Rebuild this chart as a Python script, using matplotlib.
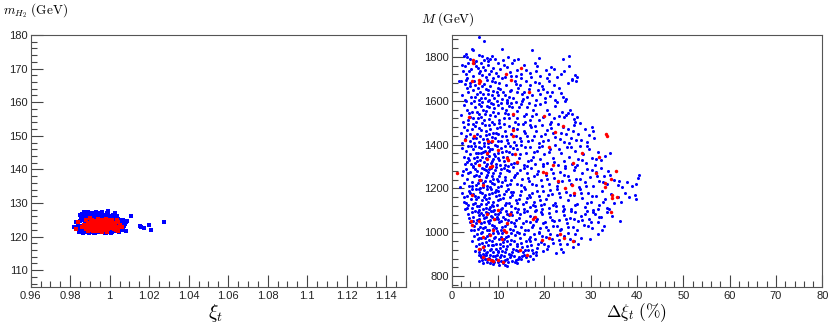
import matplotlib
matplotlib.use("Agg")
import matplotlib.pyplot as plt
from matplotlib.ticker import MultipleLocator, FuncFormatter

# ---------------- data: left panel (xi_t, m_H2) ----------------
left_blue = [(0.983,122.6),(0.984,124.3),(0.985,123.0),(0.985,121.8),(0.986,122.4),(0.986,124.8),(0.987,123.5),(0.987,121.5),(0.988,122.9),(0.988,125.1),(0.989,121.9),(0.989,124.0),(0.989,127.2),(0.990,127.0),(0.990,123.2),(0.990,121.4),(0.991,125.6),(0.991,122.5),(0.992,124.4),(0.992,121.2),(0.993,123.8),(0.993,126.1),(0.993,122.0),(0.994,125.0),(0.994,121.5),(0.995,126.8),(0.995,123.0),(0.995,121.3),(0.996,124.7),(0.996,122.2),(0.997,126.0),(0.997,121.6),(0.998,125.3),(0.998,123.4),(0.998,121.2),(0.999,127.6),(0.999,124.1),(0.999,122.0),(1.000,126.2),(1.000,125.0),(1.000,121.5),(1.001,123.6),(1.001,122.3),(1.002,124.8),(1.002,121.8),(1.003,123.2),(1.003,125.4),(1.004,122.5),(1.004,124.0),(1.005,123.0),(1.005,121.9),(1.006,122.8),(1.006,124.3),(1.007,123.1),(0.985,126.5),(0.986,125.8),(0.984,123.8),(0.987,126.0),(0.988,121.3),(0.991,127.1),(0.992,126.4),(0.996,127.3),(0.997,124.3),(0.994,127.0),(0.990,125.3),(0.989,122.8),(0.988,124.3),(0.990,124.2),(0.991,121.6),(0.992,123.0),(0.993,124.9),(0.994,122.7),(0.995,124.5),(0.996,125.6),(0.997,122.8),(0.998,121.7),(0.999,125.8),(1.000,123.9),(1.001,125.6),(1.002,123.3),(1.003,121.7),(1.004,125.1),(1.005,124.4),(0.986,123.3),(0.987,122.1),(0.988,123.7),(0.989,125.6),(0.990,122.0),(0.991,123.9),(0.992,125.5),(0.993,121.6),(0.994,123.6),(0.995,122.0),(0.996,121.6),(0.997,125.1),(0.998,126.4),(0.999,121.3),(1.000,122.6),(1.001,121.4),(1.002,126.0),(1.003,124.5),(1.004,123.2),(1.006,123.6),(1.008,121.8),(1.008,124.4),(0.985,124.6),(0.984,122.2),(0.983,124.2),(0.982,122.9),(1.0086,124.7),(1.0107,126.2),(1.0155,123.2),(1.0159,122.8),(1.0176,122.5),(1.0198,123.5),(1.021,122.0),(1.0276,124.3),(0.993,127.2),(0.999,127.0),
(0.9845,121.4),(0.9855,125.3),(0.9865,121.1),(0.9875,124.6),(0.9885,126.3),(0.9895,121.2),(0.9905,126.0),(0.9915,124.8),(0.9925,121.0),(0.9935,125.7),(0.9945,126.2),(0.9955,125.8),(0.9965,126.5),(0.9975,121.1),(0.9985,127.0),(0.9995,126.0),(1.0005,121.0),(1.0015,126.5),(1.0025,125.4),(1.0035,126.0),(1.0045,121.3),(1.0055,125.0),(1.0065,121.9),(1.0075,123.8),(0.9838,123.4),(0.9862,126.8),(0.9872,127.3),(1.0028,127.1),(1.0052,122.2),(1.0068,124.9)]

left_red = [(0.983,122.3),(0.984,124.4),(0.986,122.8),(0.987,123.6),(0.988,122.2),(0.989,124.0),(0.990,122.6),(0.990,123.8),(0.991,125.0),(0.991,122.1),(0.992,123.4),(0.992,124.6),(0.993,122.5),(0.993,123.9),(0.994,125.3),(0.994,122.9),(0.995,124.2),(0.995,121.9),(0.996,123.3),(0.996,125.0),(0.997,122.4),(0.997,124.5),(0.998,123.1),(0.998,125.2),(0.999,122.2),(0.999,123.8),(1.000,124.7),(1.000,122.7),(1.001,123.5),(1.001,124.9),(1.002,122.4),(1.002,124.0),(1.003,123.0),(1.004,124.3),(1.004,121.8),(1.005,123.4),(0.989,121.8),(0.991,123.5),(0.993,121.7),(0.995,123.0),(0.997,123.7),(0.999,124.9),(1.003,122.1),(0.996,121.4),(0.988,125.0),(0.994,124.0),(0.998,122.0),(1.000,123.3),(0.990,125.5),(0.992,122.0),(1.004,122.8),(1.006,123.0),
(0.9895,123.1),(0.9905,124.5),(0.9915,122.8),(0.9925,124.1),(0.9935,123.2),(0.9945,121.8),(0.9955,123.6),(0.9965,124.6),(0.9975,123.0),(0.9985,124.2),(0.9995,122.7),(1.0005,124.0),(1.0015,122.9),(1.0025,123.6),(0.9965,122.1),(0.9985,121.5),(0.9945,124.7),(0.9915,121.6),(0.9875,123.0),(1.0035,124.8)]

# ---------------- data: right panel (Delta xi_t %, M) ----------------
right_blue = [
(6.0,1890),(7.0,1872),(4.4,1838),(4.7,1830),(10.8,1834),(17.3,1830),(2.6,1806),(3.3,1800),(4.0,1792),(5.9,1808),(6.6,1802),(7.7,1797),(8.2,1791),(9.3,1789),(12.2,1800),(13.5,1785),(14.4,1790),(18.8,1794),(24.0,1791),(25.3,1803),(5.3,1782),(6.9,1786),(11.0,1786),(3.0,1812),(8.8,1806),
(2.2,1765),(2.9,1758),(3.6,1772),(4.2,1745),(5.2,1760),(5.6,1748),(6.3,1770),(6.8,1755),(7.2,1740),(7.9,1762),(8.4,1735),(9.0,1750),(9.6,1728),(10.4,1745),(11.2,1765),(12.0,1752),(13.1,1770),(14.2,1742),(15.6,1765),(16.8,1725),(17.9,1770),(18.5,1758),(20.3,1740),(21.5,1752),(22.0,1745),(23.5,1720),(25.4,1760),(3.1,1720),(3.8,1735),(4.6,1712),(5.9,1725),(6.5,1718),(7.4,1710),(8.1,1722),(8.9,1705),(10.1,1715),(11.5,1708),(12.6,1730),(13.8,1712),(15.0,1705),(16.1,1742),(17.2,1708),(19.1,1715),(20.6,1703),(24.2,1735),(26.6,1718),(2.5,1735),(4.9,1770),(6.1,1735),(7.8,1780),(9.9,1772),(10.9,1705),(12.9,1712),(14.9,1722),(18.2,1735),(21.1,1722),(22.8,1708),(26.0,1700),(27.0,1708),(3.4,1705),
(1.5,1688),(2.0,1690),(2.8,1675),(3.3,1660),(3.9,1680),(4.5,1650),(5.1,1670),(5.7,1660),(6.2,1642),(6.9,1675),(7.3,1655),(7.8,1630),(8.3,1668),(8.9,1645),(9.4,1685),(9.9,1625),(10.5,1655),(11.1,1640),(11.7,1672),(12.3,1618),(12.9,1650),(13.6,1690),(14.1,1640),(14.8,1672),(15.4,1610),(16.0,1692),(16.6,1655),(17.3,1625),(17.9,1685),(18.6,1648),(19.4,1668),(20.1,1612),(20.9,1690),(21.7,1640),(22.4,1605),(23.2,1660),(24.1,1615),(25.0,1680),(25.9,1694),(26.8,1690),(2.3,1625),(2.9,1605),(3.6,1640),(4.2,1618),(4.8,1690),(5.4,1630),(6.0,1605),(6.5,1668),(7.1,1612),(7.6,1695),(8.0,1605),(8.6,1625),(9.2,1612),(10.0,1660),(10.8,1608),(11.4,1625),(12.0,1595),(12.6,1645),(13.2,1612),(14.4,1660),(15.7,1640),(16.3,1618),(17.0,1670),(18.2,1602),(19.0,1630),(19.8,1655),(21.2,1620),(22.0,1672),(23.5,1635),(24.6,1607),(3.0,1695),(4.0,1668),(5.0,1615),(6.7,1630),(7.9,1650),(9.7,1640),(11.9,1605),(13.9,1675),(15.1,1630),(18.8,1680),(20.5,1640),(24.4,1600),(6.4,1612),(8.8,1690),(10.3,1680),
(2.1,1535),(2.7,1580),(3.2,1560),(3.7,1545),(4.1,1590),(4.6,1520),(5.0,1570),(5.5,1548),(5.9,1585),(6.3,1525),(6.8,1560),(7.2,1540),(7.6,1575),(8.1,1515),(8.5,1590),(8.9,1550),(9.4,1530),(9.9,1580),(10.3,1510),(10.9,1565),(11.4,1545),(11.9,1590),(12.4,1520),(13.0,1570),(13.6,1505),(14.2,1555),(14.9,1585),(15.5,1530),(16.2,1570),(16.9,1510),(17.6,1560),(18.3,1540),(19.1,1585),(19.8,1525),(20.6,1560),(21.4,1505),(22.3,1575),(23.1,1530),(23.9,1550),(24.7,1535),(25.5,1560),(26.3,1515),(27.0,1525),(2.5,1505),(3.0,1598),(3.5,1512),(4.3,1550),(4.9,1600),(5.3,1505),(6.0,1540),(6.6,1595),(7.0,1510),(7.4,1555),(7.9,1598),(8.3,1535),(8.7,1505),(9.2,1565),(9.7,1600),(10.1,1545),(10.6,1590),(11.2,1520),(11.7,1560),(12.1,1540),(12.8,1590),(13.3,1535),(14.0,1520),(14.6,1570),(15.2,1600),(16.0,1540),(16.6,1590),(17.3,1530),(18.0,1580),(18.9,1510),(20.2,1595),(21.0,1540),(22.0,1520),(22.8,1595),(24.2,1525),(25.1,1545),(26.0,1540),(26.7,1505),(5.7,1520),(9.0,1585),(12.3,1575),(6.4,1575),(8.0,1570),(3.9,1525),(13.8,1595),(15.8,1505),
(2.0,1455),(2.6,1480),(3.1,1440),(3.5,1495),(3.9,1415),(4.3,1470),(4.7,1430),(5.1,1485),(5.5,1450),(5.9,1410),(6.3,1465),(6.7,1425),(7.1,1490),(7.5,1445),(7.9,1405),(8.3,1470),(8.7,1435),(9.1,1495),(9.5,1455),(9.9,1415),(10.4,1480),(10.9,1440),(11.4,1460),(11.9,1420),(12.4,1485),(12.9,1450),(13.5,1410),(14.1,1470),(14.7,1430),(15.3,1495),(15.9,1455),(16.5,1415),(17.1,1478),(17.7,1440),(18.3,1462),(18.9,1408),(19.5,1488),(20.1,1448),(20.8,1420),(21.5,1475),(22.2,1435),(22.9,1495),(23.6,1455),(24.3,1412),(25.0,1470),(25.7,1430),(26.4,1488),(27.2,1448),(28.0,1420),(28.8,1470),(29.6,1445),(30.2,1480),(30.8,1430),(2.3,1405),(2.9,1425),(3.3,1468),(4.0,1450),(4.5,1495),(4.9,1408),(5.3,1432),(6.1,1440),(6.5,1498),(6.9,1408),(7.3,1462),(7.7,1425),(8.1,1488),(8.5,1410),(8.9,1452),(9.3,1430),(9.7,1475),(10.1,1450),(10.7,1415),(11.2,1492),(11.7,1440),(12.2,1408),(13.2,1475),(13.8,1440),(14.4,1495),(15.0,1415),(15.6,1462),(16.2,1440),(16.8,1490),(17.4,1420),(18.0,1485),(19.2,1440),(19.8,1415),(20.5,1465),(21.2,1492),(21.9,1455),(23.3,1425),(24.0,1482),(24.7,1448),(25.4,1408),(26.1,1460),(26.8,1420),(27.6,1498),(29.2,1410),(30.5,1460),(6.0,1475),(8.0,1450),(10.2,1498),
(2.2,1385),(2.6,1345),(3.0,1370),(3.3,1320),(3.6,1395),(3.9,1355),(4.2,1310),(4.5,1378),(4.8,1340),(5.1,1395),(5.4,1325),(5.7,1360),(6.0,1305),(6.3,1385),(6.6,1345),(6.9,1320),(7.2,1370),(7.5,1300),(7.8,1390),(8.1,1350),(8.4,1318),(8.7,1378),(9.0,1335),(9.3,1398),(9.6,1310),(9.9,1362),(10.2,1328),(10.6,1385),(11.0,1345),(11.4,1305),(11.8,1372),(12.2,1330),(12.6,1395),(13.0,1355),(13.5,1318),(14.0,1380),(14.5,1340),(15.0,1398),(15.5,1305),(16.0,1362),(16.5,1325),(17.0,1388),(17.5,1345),(18.0,1310),(18.5,1372),(19.0,1335),(19.5,1395),(20.0,1355),(20.6,1318),(21.2,1380),(21.8,1340),(22.4,1398),(23.0,1305),(23.6,1362),(24.2,1325),(24.8,1388),(25.4,1345),(26.0,1310),(26.6,1372),(27.2,1335),(27.8,1395),(28.4,1355),(29.0,1318),(29.6,1380),(30.2,1340),(30.9,1308),(31.6,1365),(32.3,1330),(33.0,1350),(34.2,1360),(2.8,1310),(3.5,1338),(4.1,1395),(4.6,1302),(5.2,1360),(5.8,1388),(6.2,1330),(6.8,1365),(7.3,1340),(7.7,1312),(8.2,1382),(8.6,1300),(9.2,1355),(9.8,1392),(10.4,1305),(10.9,1368),(11.5,1395),(12.0,1345),(12.8,1310),(13.3,1385),(14.2,1315),(14.8,1358),(15.8,1390),(16.3,1300),(17.2,1328),(17.8,1365),(18.8,1390),(19.8,1310),(20.9,1365),(22.0,1322),(23.2,1378),(24.5,1302),(25.7,1390),(27.0,1308),(28.2,1330),(29.3,1395),(31.2,1335),(3.8,1330),(5.5,1345),(7.0,1395),(8.8,1325),(10.0,1340),(11.2,1325),(12.4,1365),(13.8,1398),(6.4,1362),(8.0,1372),(9.4,1348),(5.0,1318),(7.6,1355),
(1.8,1205),(2.3,1260),(2.7,1225),(3.1,1290),(3.4,1245),(3.7,1210),(4.0,1275),(4.3,1230),(4.6,1298),(4.9,1255),(5.2,1215),(5.5,1280),(5.8,1240),(6.1,1202),(6.4,1268),(6.7,1225),(7.0,1290),(7.3,1250),(7.6,1212),(7.9,1275),(8.2,1235),(8.5,1295),(8.8,1258),(9.1,1218),(9.4,1282),(9.7,1242),(10.0,1205),(10.4,1270),(10.8,1228),(11.2,1292),(11.6,1252),(12.0,1215),(12.4,1278),(12.8,1238),(13.2,1298),(13.7,1260),(14.2,1220),(14.7,1285),(15.2,1245),(15.7,1208),(16.2,1272),(16.7,1232),(17.2,1292),(17.7,1255),(18.2,1215),(18.7,1280),(19.2,1240),(19.7,1300),(20.3,1262),(20.9,1222),(21.5,1288),(22.1,1248),(22.7,1210),(23.3,1275),(23.9,1235),(24.5,1295),(25.1,1258),(25.7,1218),(26.3,1282),(26.9,1242),(27.5,1205),(28.1,1268),(28.7,1228),(29.3,1290),(29.9,1250),(30.5,1212),(31.1,1275),(31.7,1235),(32.3,1292),(32.9,1255),(33.5,1218),(34.2,1262),(35.0,1240),(35.8,1215),(36.8,1205),(37.8,1228),(38.9,1212),(39.7,1222),(40.2,1248),(40.4,1262),(2.5,1280),(3.6,1268),(4.4,1212),(5.0,1290),(5.6,1225),(6.0,1255),(6.6,1295),(7.1,1232),(7.7,1262),(8.3,1208),(8.9,1245),(9.5,1298),(10.2,1255),(10.6,1212),(11.4,1240),(11.9,1282),(12.6,1222),(13.4,1250),(14.0,1272),(14.9,1215),(15.5,1295),(16.4,1248),(17.4,1222),(18.4,1265),(19.5,1212),(20.6,1245),(21.8,1272),(23.0,1228),(24.2,1262),(25.4,1238),(26.6,1298),(27.8,1245),(29.0,1212),(30.2,1282),(31.4,1258),(32.6,1228),(33.8,1280),(36.2,1232),(5.3,1262),(6.8,1205),(8.0,1290),(9.9,1232),(12.2,1300),(7.4,1285),(9.0,1270),(6.3,1238),(10.7,1290),(8.6,1225),
(2.3,1180),(2.6,1140),(2.9,1105),(3.2,1165),(3.5,1125),(3.8,1190),(4.1,1150),(4.4,1112),(4.7,1175),(5.0,1135),(5.3,1198),(5.6,1160),(5.9,1120),(6.2,1185),(6.5,1145),(6.8,1108),(7.1,1170),(7.4,1130),(7.7,1195),(8.0,1155),(8.3,1115),(8.6,1180),(8.9,1140),(9.2,1102),(9.5,1165),(9.8,1125),(10.1,1190),(10.5,1150),(10.9,1112),(11.3,1175),(11.7,1135),(12.1,1198),(12.5,1160),(12.9,1120),(13.3,1185),(13.8,1145),(14.3,1108),(14.8,1170),(15.3,1130),(15.8,1195),(16.3,1155),(16.8,1115),(17.3,1180),(17.8,1140),(18.3,1102),(18.8,1165),(19.3,1125),(19.8,1190),(20.4,1150),(21.0,1112),(21.6,1175),(22.2,1135),(22.8,1198),(23.4,1160),(24.0,1120),(24.6,1185),(25.2,1145),(25.8,1108),(26.4,1170),(27.0,1130),(27.6,1195),(28.2,1155),(28.8,1115),(29.4,1180),(30.0,1140),(30.6,1102),(31.2,1165),(31.8,1125),(32.4,1190),(33.0,1150),(33.6,1112),(34.3,1175),(35.0,1135),(35.8,1160),(37.5,1178),(38.3,1162),(39.6,1168),(39.7,1152),(36.5,1140),(2.7,1160),(3.4,1110),(4.0,1178),(4.6,1130),(5.2,1150),(5.8,1195),(6.3,1128),(6.9,1160),(7.5,1112),(8.1,1175),(8.7,1125),(9.3,1185),(9.9,1148),(10.6,1105),(11.1,1158),(11.8,1188),(12.3,1132),(13.0,1170),(13.6,1112),(14.5,1152),(15.0,1188),(15.6,1108),(16.6,1170),(17.5,1125),(18.5,1188),(19.5,1108),(20.7,1168),(21.9,1125),(23.1,1180),(24.3,1108),(25.5,1172),(26.7,1122),(27.9,1178),(29.1,1135),(30.3,1165),(31.5,1108),(32.7,1140),(34.0,1105),(3.0,1135),(4.3,1195),(5.5,1118),(6.6,1178),(7.3,1150),(8.4,1198),(9.0,1118),(10.3,1170),(11.5,1125),(12.7,1185),(14.0,1132),(16.0,1140),(17.0,1160),(18.0,1118),(19.0,1148),(20.0,1128),(21.3,1192),(22.5,1118),(5.0,1165),(7.9,1138),(9.6,1192),(6.0,1103),(8.0,1108),
(3.5,1085),(3.9,1045),(4.2,1010),(4.5,1070),(4.8,1030),(5.1,1095),(5.4,1055),(5.7,1015),(6.0,1080),(6.3,1040),(6.6,1002),(6.9,1065),(7.2,1025),(7.5,1090),(7.8,1050),(8.1,1012),(8.4,1075),(8.7,1035),(9.0,1098),(9.3,1060),(9.6,1020),(9.9,1085),(10.2,1045),(10.6,1008),(11.0,1070),(11.4,1030),(11.8,1095),(12.2,1055),(12.6,1015),(13.0,1080),(13.5,1040),(14.0,1002),(14.5,1065),(15.0,1025),(15.5,1090),(16.0,1050),(16.5,1012),(17.0,1075),(17.5,1035),(18.0,1098),(18.5,1060),(19.0,1020),(19.5,1085),(20.1,1045),(20.7,1008),(21.3,1070),(21.9,1030),(22.5,1095),(23.1,1055),(23.7,1015),(24.3,1080),(24.9,1040),(25.5,1065),(26.1,1025),(26.7,1090),(27.3,1050),(27.9,1075),(28.5,1035),(29.1,1098),(29.7,1060),(30.3,1020),(31.0,1085),(31.6,1045),(32.2,1070),(32.8,1030),(33.6,1090),(34.6,1072),(36.3,1050),(3.7,1065),(4.4,1092),(4.9,1008),(5.3,1040),(5.9,1060),(6.4,1088),(6.8,1020),(7.4,1070),(8.0,1040),(8.5,1095),(9.1,1030),(9.7,1068),(10.4,1090),(10.8,1025),(11.6,1060),(12.0,1038),(12.8,1092),(13.3,1010),(13.8,1058),(14.8,1082),(15.8,1010),(16.8,1048),(17.8,1068),(18.8,1002),(19.8,1040),(20.9,1088),(22.1,1052),(23.4,1008),(24.6,1062),(25.8,1098),(27.0,1012),(28.2,1058),(29.4,1028),(30.6,1092),(31.8,1068),(32.5,1012),(5.6,1092),(6.2,1025),(7.0,1048),(7.7,1008),(8.3,1058),(8.9,1015),(9.4,1082),(10.0,1060),(11.2,1005),(12.4,1078),(13.6,1030),(14.2,1090),(15.3,1040),(16.3,1095),(17.3,1025),(18.3,1052),(19.3,1092),(20.4,1025),(21.6,1058),(22.8,1030),(24.0,1095),(25.2,1022),(26.4,1060),(28.8,1085),(30.0,1048),(6.8,1080),(8.6,1068),(10.7,1052),(7.9,1088),(9.8,1005),(12.9,1045),(4.7,1050),(11.9,1085),
(4.3,960),(4.8,985),(5.2,935),(5.6,970),(6.0,910),(6.3,995),(6.6,950),(6.9,920),(7.2,975),(7.5,905),(7.8,940),(8.1,990),(8.4,925),(8.7,960),(9.0,908),(9.3,980),(9.6,945),(9.9,915),(10.2,970),(10.5,930),(10.8,995),(11.1,955),(11.4,912),(11.7,978),(12.0,938),(12.4,902),(12.8,965),(13.2,925),(13.6,988),(14.0,948),(14.4,915),(14.8,972),(15.2,932),(15.6,992),(16.0,958),(16.4,918),(16.8,980),(17.2,942),(17.6,905),(18.0,968),(18.4,928),(18.8,995),(19.3,955),(19.8,915),(20.3,978),(20.8,938),(21.3,990),(21.9,950),(22.5,905),(23.1,965),(23.7,925),(24.3,985),(24.9,945),(25.5,970),(26.1,932),(26.7,990),(27.2,945),(28.0,975),(29.8,970),(31.5,990),(5.0,915),(5.8,948),(6.4,975),(6.8,902),(7.3,955),(7.7,985),(8.2,918),(8.6,942),(9.1,972),(9.5,925),(9.9,998),(10.4,948),(10.9,915),(11.3,968),(11.8,925),(12.2,985),(12.6,945),(13.0,910),(13.5,958),(13.9,920),(14.6,995),(15.0,952),(15.4,908),(16.2,935),(16.6,968),(17.4,918),(17.8,992),(18.6,945),(19.5,985),(20.5,925),(21.6,968),(22.8,988),(24.0,912),(25.2,998),(26.4,958),(7.0,935),(8.0,965),(9.0,940),(10.0,908),(11.0,935),(12.0,958),(6.2,925),(7.6,908),(8.9,995),(10.6,978),(12.9,995),(14.2,935),(15.8,918),(17.0,958),(18.2,908),(20.0,945),(23.4,945),(6.0,972),(5.5,990),
(6.0,870),(6.4,888),(6.8,860),(7.1,878),(7.4,895),(7.7,865),(8.0,882),(8.3,858),(8.6,875),(8.9,892),(9.2,865),(9.5,880),(9.8,898),(10.1,862),(10.4,885),(10.7,870),(11.0,858),(11.3,890),(11.6,875),(11.9,845),(12.2,862),(12.6,885),(13.0,870),(13.4,892),(13.8,875),(14.2,860),(14.6,888),(15.0,878),(15.5,895),(16.0,885),(16.5,870),(17.0,892),(17.6,880),(18.2,898),(6.2,895),(6.6,875),(7.0,892),(7.6,880),(8.2,895),(8.8,868),(9.4,890),(10.0,875),(10.6,895),(11.2,868),(12.0,878),(12.8,898),(13.6,865),(14.4,880),(15.2,890),(5.8,895),(9.0,855),(10.3,850),(11.5,850),
]

right_red = [(4.7,1788),(4.7,1773),(4.3,1689),(6.0,1696),(6.1,1689),(5.8,1681),(11.7,1724),(12.9,1696),(14.9,1748),(16.7,1638),(3.8,1525),(4.8,1440),(2.9,1421),(13.3,1539),(13.2,1441),(13.3,1467),(19.9,1531),(22.3,1459),(24.0,1485),(33.3,1449),(33.5,1441),(7.9,1414),(8.6,1414),(10.1,1375),(7.6,1360),(12.0,1337),(12.2,1330),(13.7,1357),(14.0,1322),(21.1,1388),(28.2,1360),(31.9,1345),(1.1,1272),(5.8,1307),(7.6,1334),(8.3,1299),(8.8,1304),(6.1,1238),(6.8,1215),(4.3,1169),(21.9,1307),(26.1,1315),(19.7,1276),(20.4,1268),(22.9,1233),(24.5,1203),(25.9,1215),(31.2,1272),(35.4,1281),(34.4,1243),(33.0,1223),(33.0,1205),(34.7,1169),(34.7,1154),(35.6,1159),(34.3,1093),(26.4,1177),(7.6,1085),(10.1,1101),(9.2,1062),(12.6,1085),(11.9,1040),(4.1,1050),(6.0,1050),(4.3,1032),(9.0,1009),(11.3,1009),(11.7,1001),(8.3,986),(10.8,971),(6.8,978),(5.8,925),(6.8,933),(14.7,920),(16.2,894),(18.0,1070),(17.6,1062),(19.6,966),(21.1,975),(23.4,994),(24.2,975),(26.1,960),(6.8,887),(7.9,879),(9.0,867),(10.0,872),(11.1,864),(8.5,872)]

left_xticks = [0.96, 0.98, 1.00, 1.02, 1.04, 1.06, 1.08, 1.10, 1.12, 1.14]
left_yticks = [110, 120, 130, 140, 150, 160, 170, 180]
right_xticks = [0, 10, 20, 30, 40, 50, 60, 70, 80]
right_yticks = [800, 1000, 1200, 1400, 1600, 1800]

# ---------------- figure ----------------
plt.rcParams['font.family'] = ['Liberation Sans', 'DejaVu Sans']
plt.rcParams['mathtext.fontset'] = 'cm'

fig = plt.figure(figsize=(8.34, 3.27), dpi=100)
W, H = 834, 327
axL = fig.add_axes([30.7 / W, 1 - 287 / H, (406 - 30.7) / W, (287 - 35) / H])
axR = fig.add_axes([451.7 / W, 1 - 287 / H, (822.3 - 451.7) / W, (287 - 35) / H])

frame_col = '#555555'
tick_col = '#444444'
ms = 2.2

def style(ax):
    for s in ax.spines.values():
        s.set_color(frame_col)
        s.set_linewidth(0.8)
    ax.tick_params(which='both', direction='in', top=False, right=False,
                   colors=tick_col, labelcolor='#222222', labelsize=8, width=0.8)
    ax.tick_params(which='major', length=8.5)
    ax.tick_params(which='minor', length=4)
    ax.tick_params(axis='x', pad=3)
    ax.tick_params(axis='y', pad=2)

fmt = FuncFormatter(lambda v, p: ('%g' % round(v, 6)))

# left panel
bx, by = zip(*left_blue)
rx, ry = zip(*left_red)
axL.plot(bx, by, 's', color='#0000ff', ms=ms, mew=0, linestyle='none')
axL.plot(rx, ry, 's', color='#ff0000', ms=ms, mew=0, linestyle='none')
axL.set_xlim(0.96, 1.15)
axL.set_ylim(105, 180)
axL.set_xticks(left_xticks)
axL.set_yticks(left_yticks)
axL.xaxis.set_major_formatter(fmt)
axL.xaxis.set_minor_locator(MultipleLocator(0.005))
axL.yaxis.set_minor_locator(MultipleLocator(2))
style(axL)

# right panel
bx, by = zip(*right_blue)
rx, ry = zip(*right_red)
axR.plot(bx, by, 'o', color='#0000ff', ms=ms, mew=0, linestyle='none')
axR.plot(rx, ry, 'o', color='#ff0000', ms=ms + 0.3, mew=0, linestyle='none')
axR.set_xlim(0, 80)
axR.set_ylim(750, 1900)
axR.set_xticks(right_xticks)
axR.set_yticks(right_yticks)
axR.xaxis.set_minor_locator(MultipleLocator(2))
axR.yaxis.set_minor_locator(MultipleLocator(40))
style(axR)

# axis titles
fig.text(3 / W, 1 - 11 / H, r'$m_{H_2}\ \mathrm{(GeV)}$', fontsize=9.5, ha='left', va='center')
fig.text(421 / W, 1 - 19 / H, r'$M\ \mathrm{(GeV)}$', fontsize=9.5, ha='left', va='center')
fig.text(215 / W, 1 - 313 / H, r'$\xi_t$', fontsize=14, ha='center', va='center')
fig.text(636 / W, 1 - 313 / H, r'$\Delta\xi_t\ \mathrm{(\%)}$', fontsize=12.5, ha='center', va='center')

fig.savefig('out.png', dpi=100)
